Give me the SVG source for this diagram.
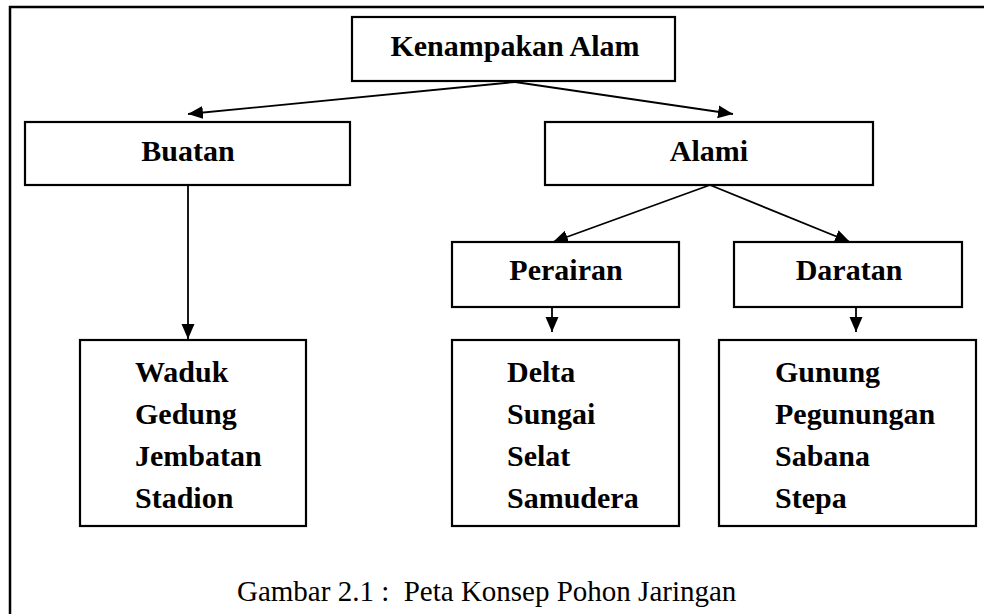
<svg xmlns="http://www.w3.org/2000/svg" width="984" height="614" viewBox="0 0 984 614">
  <style>
    .box { fill: #ffffff; stroke: #000000; stroke-width: 2.2; }
    .lbl { font-family: "Liberation Serif", "Times New Roman", serif; font-weight: bold; font-size: 30px; fill: #000000; }
    .mid { text-anchor: middle; }
    .link { fill: none; stroke: #000000; stroke-width: 1.8; marker-end: url(#head); }
    .cap { font-family: "Liberation Serif", "Times New Roman", serif; font-size: 29px; fill: #000000; }
  </style>
  <defs>
    <marker id="head" markerUnits="userSpaceOnUse" markerWidth="16" markerHeight="14" refX="15" refY="6.5" orient="auto">
      <path d="M0,0 L15,6.5 L0,13 z" fill="#000000"/>
    </marker>
  </defs>

  <rect width="984" height="614" fill="#ffffff"/>

  <!-- page frame -->
  <path d="M10,614 V7 H984" fill="none" stroke="#000000" stroke-width="2.5"/>

  <!-- connectors -->
  <g id="connectors">
    <line class="link" x1="515" y1="82" x2="188" y2="114"/>
    <line class="link" x1="515" y1="82" x2="733" y2="114"/>
    <line class="link" x1="188" y1="185" x2="188" y2="339"/>
    <line class="link" x1="710" y1="185" x2="553" y2="242"/>
    <line class="link" x1="710" y1="185" x2="850" y2="242"/>
    <line class="link" x1="552" y1="297" x2="552" y2="332"/>
    <line class="link" x1="856" y1="297" x2="856" y2="332"/>
  </g>

  <g id="kenampakan-alam">
    <rect class="box" x="352" y="17" width="323" height="64"/>
    <text class="lbl mid" x="515" y="56">Kenampakan Alam</text>
  </g>

  <g id="buatan">
    <rect class="box" x="25" y="122" width="325" height="63"/>
    <text class="lbl mid" x="188" y="161">Buatan</text>
  </g>

  <g id="alami">
    <rect class="box" x="545" y="122" width="328" height="63"/>
    <text class="lbl mid" x="709" y="161">Alami</text>
  </g>

  <g id="perairan">
    <rect class="box" x="452" y="242" width="227" height="65"/>
    <text class="lbl mid" x="566" y="280">Perairan</text>
  </g>

  <g id="daratan">
    <rect class="box" x="734" y="242" width="228" height="65"/>
    <text class="lbl mid" x="849" y="280">Daratan</text>
  </g>

  <g id="buatan-list">
    <rect class="box" x="80" y="340" width="226" height="186"/>
    <text class="lbl" x="135" y="382">Waduk</text>
    <text class="lbl" x="135" y="424">Gedung</text>
    <text class="lbl" x="135" y="466">Jembatan</text>
    <text class="lbl" x="135" y="508">Stadion</text>
  </g>

  <g id="perairan-list">
    <rect class="box" x="452" y="340" width="227" height="186"/>
    <text class="lbl" x="507" y="382">Delta</text>
    <text class="lbl" x="507" y="424">Sungai</text>
    <text class="lbl" x="507" y="466">Selat</text>
    <text class="lbl" x="507" y="508">Samudera</text>
  </g>

  <g id="daratan-list">
    <rect class="box" x="719" y="340" width="257" height="186"/>
    <text class="lbl" x="775" y="382">Gunung</text>
    <text class="lbl" x="775" y="424">Pegunungan</text>
    <text class="lbl" x="775" y="466">Sabana</text>
    <text class="lbl" x="775" y="508">Stepa</text>
  </g>

  <text class="cap" x="237" y="601" xml:space="preserve">Gambar 2.1 :  Peta Konsep Pohon Jaringan</text>
</svg>
